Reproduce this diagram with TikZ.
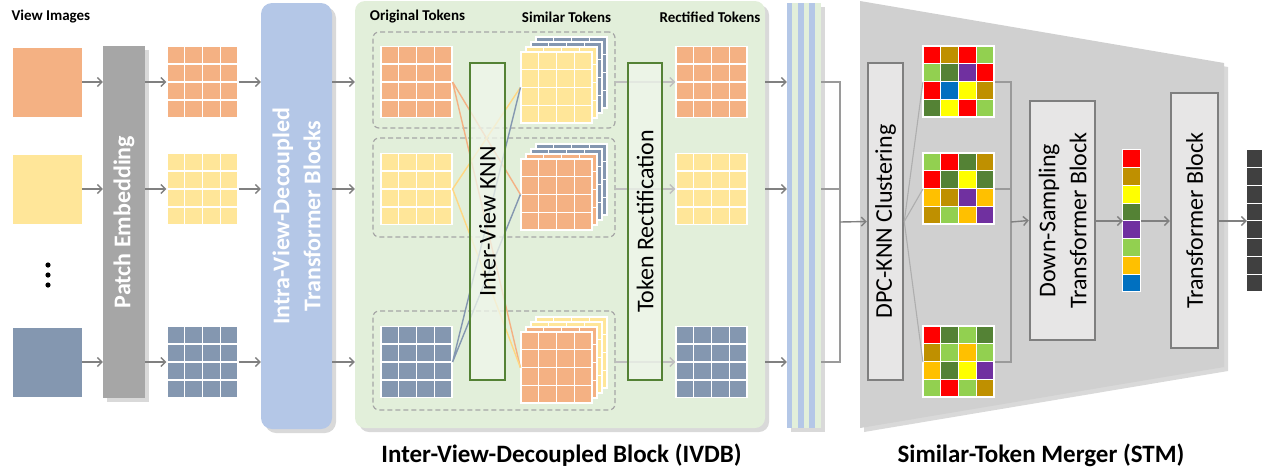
\documentclass[tikz,border=0pt]{standalone}
\usepackage{fontspec}
\setmainfont{Carlito}
\usetikzlibrary{arrows.meta,calc,shadows}

\definecolor{orangeT}{HTML}{F4B183}
\definecolor{yellowT}{HTML}{FFE699}
\definecolor{blueT}{HTML}{8497B0}
\definecolor{peGray}{HTML}{A6A6A6}
\definecolor{intraBlue}{HTML}{B4C7E7}
\definecolor{ivdbGreen}{HTML}{E2EFDA}
\definecolor{knnFill}{HTML}{F0F6EC}
\definecolor{knnEdge}{HTML}{548235}
\definecolor{stmGray}{HTML}{D0D0D0}
\definecolor{boxFill}{HTML}{E7E6E6}
\definecolor{boxEdge}{HTML}{7F7F7F}
\definecolor{arrowGray}{HTML}{808080}
\definecolor{lightArrow}{HTML}{BFBFBF}
\definecolor{linkGray}{HTML}{9A9A9A}
\definecolor{dashGray}{HTML}{A6A6A6}
\definecolor{cRed}{HTML}{FF0000}
\definecolor{cOlive}{HTML}{BF9000}
\definecolor{cLime}{HTML}{92D050}
\definecolor{cGreen}{HTML}{548235}
\definecolor{cPurple}{HTML}{7030A0}
\definecolor{cBlue}{HTML}{0070C0}
\definecolor{cYellow}{HTML}{FFFF00}
\definecolor{cGold}{HTML}{FFC000}
\definecolor{outGray}{HTML}{404040}

\tikzset{
  flow/.style={draw=arrowGray, line width=1.4pt, -{Straight Barb[length=4.5pt,width=9pt]}},
  softflow/.style={draw=lightArrow, line width=1.4pt, -{Straight Barb[length=4.5pt,width=9pt]}},
  link/.style={draw=linkGray, line width=1.4pt},
  knn/.style={line width=1.4pt},
  softshadow/.style={drop shadow={shadow xshift=4pt, shadow yshift=-4pt, opacity=0.3}},
  viewimg/.style={minimum size=69pt, inner sep=0pt},
  tokbox/.style={minimum size=71pt, inner sep=0pt, draw=white, line width=1.2pt},
  cellline/.style={white, line width=1.2pt},
  greenbox/.style={draw=knnEdge, line width=2.5pt, fill=knnFill, fill opacity=0.75, minimum width=35pt, minimum height=317pt, inner sep=0pt},
  graybox/.style={draw=boxEdge, line width=2.5pt, fill=boxFill, inner sep=0pt},
  vtext/.style={rotate=90, font=\fontsize{24}{30}\selectfont, align=center},
  colhead/.style={font=\bfseries\fontsize{15}{18}\selectfont},
  bottomtitle/.style={font=\bfseries\fontsize{25}{30}\selectfont},
  pool/.style={draw=dashGray, dash pattern=on 5pt off 3pt, line width=1.2pt, rounded corners=6pt, minimum width=242pt, inner sep=0pt},
}

% 4x4 token grid: name, centre x, centre y, colour
\newcommand{\tokgrid}[4]{%
  \node[tokbox, fill=#4] (#1) at (#2,#3) {};
  \foreach \k in {1,2,3} {
    \draw[cellline] ($(#1.north west)!\k/4!(#1.north east)$) -- ($(#1.south west)!\k/4!(#1.south east)$);
    \draw[cellline] ($(#1.north west)!\k/4!(#1.south west)$) -- ($(#1.north east)!\k/4!(#1.south east)$);
  }}

% stack of similar tokens: name, centre x, centre y, back colour, front colour
\newcommand{\simstack}[5]{%
  \tokgrid{#1d}{#2+15}{#3-15}{#4}
  \tokgrid{#1c}{#2+10}{#3-10}{#4}
  \tokgrid{#1b}{#2+5}{#3-5}{#5}
  \tokgrid{#1}{#2}{#3}{#5}}

% clustered grid: name, centre x, centre y, 16 colours
\newcommand{\colgrid}[4]{%
  \node[tokbox] (#1) at (#2,#3) {};
  \foreach \cc [count=\idx from 0] in {#4} {
    \pgfmathtruncatemacro\gr{\idx/4}
    \pgfmathtruncatemacro\gc{mod(\idx,4)}
    \filldraw[fill=\cc, draw=white, line width=1.2pt] ($(#1.north west)+(\gc*17.75,\gr*17.75)$) rectangle ++(17.75,17.75);
  }}

\begin{document}
\begin{tikzpicture}[x=1pt,y=-1pt]
\useasboundingbox (0,0) rectangle (1269,472);

% view images
\node[colhead, anchor=west] (viewhd) at (8,17) {View Images};
\node[viewimg, fill=orangeT] (v1) at (47.5,82) {};
\node[viewimg, fill=yellowT] (v2) at (47.5,189) {};
\node[viewimg, fill=blueT] (v3) at (47.5,362) {};
\foreach \yy in {265,275,285} \fill (48,\yy) circle (2.6pt);

% patch embedding
\node[fill=peGray, softshadow, minimum width=42pt, minimum height=352pt] (pe) at (124,222) {};
\node[vtext, text=white, font=\bfseries\fontsize{24}{30}\selectfont] (pe-t) at (pe.center) {Patch Embedding};

\tokgrid{t1}{202.5}{82}{orangeT}
\tokgrid{t2}{202.5}{189}{yellowT}
\tokgrid{t3}{202.5}{362}{blueT}

% intra-view blocks
\node[fill=intraBlue, rounded corners=11pt, softshadow, minimum width=71pt, minimum height=426pt] (intra) at (296.5,216) {};
\node[vtext, text=white, font=\bfseries\fontsize{24}{31}\selectfont] (intra-t) at (intra.center) {Intra-View-Decoupled\\Transformer Blocks};

\foreach \i in {1,2,3} {
  \draw[flow] (v\i.east) -- (v\i.east -| pe.west);
  \draw[flow] (pe.east |- t\i) -- (t\i.west);
  \draw[flow] (t\i.east) -- (t\i.east -| intra.west);
}

% IVDB
\node[fill=ivdbGreen, rounded corners=10pt, softshadow, minimum width=410pt, minimum height=427pt] (ivdb) at (560,214.5) {};
\node[colhead] (orighd) at (417.5,17) {Original Tokens};
\node[colhead] (simhd) at (566.5,17) {Similar Tokens};
\node[colhead] (recthd) at (710,17) {Rectified Tokens};

\node[pool, minimum height=96pt] (d1) at (494,80) {};
\node[pool, minimum height=99pt] (d2) at (494,187.5) {};
\node[pool, minimum height=99pt] (d3) at (494,360.5) {};

\tokgrid{o1}{416.5}{82}{orangeT}
\tokgrid{o2}{416.5}{189}{yellowT}
\tokgrid{o3}{416.5}{362}{blueT}

\simstack{s1}{556.5}{87.5}{blueT}{yellowT}
\simstack{s2}{556.5}{194.5}{blueT}{orangeT}
\simstack{s3}{556.5}{367.5}{yellowT}{orangeT}

\tokgrid{r1}{711.5}{82}{orangeT}
\tokgrid{r2}{711.5}{189}{yellowT}
\tokgrid{r3}{711.5}{362}{blueT}

\draw[knn, orangeT] (o1.east) -- (s2.west) (o1.east) -- (s3.west);
\draw[knn, yellowT!85!orange] (o2.east) -- (s1.west) (o2.east) -- (s3.west);
\draw[knn, blueT] (o3.east) -- (s1.west) (o3.east) -- (s2.west);

\node[greenbox] (knnbox) at (487.5,221.5) {};
\node[vtext] (knn-t) at (knnbox.center) {Inter-View KNN};

\foreach \i in {1,2,3}
  \draw[softflow] (d\i.east |- r\i) -- (r\i.west);

\node[greenbox, minimum width=34pt] (rect) at (645,221.5) {};
\node[vtext] (rect-t) at (rect.center) {Token Rectification};

\node[bottomtitle] (ivdbcap) at (561.5,455) {Inter-View-Decoupled Block (IVDB)};

% striped tokens
\node[fill=intraBlue, softshadow, minimum width=34pt, minimum height=425pt, inner sep=0pt] (stripe) at (804,215.5) {};
\foreach \k in {1,3,5}
  \fill[ivdbGreen] ($(stripe.north west)+(\k*5.667,0)$) rectangle ++(5.667,425);

\foreach \i in {1,2,3} {
  \draw[flow] (intra.east |- t\i) -- (ivdb.west |- t\i);
  \draw[flow] (ivdb.east |- r\i) -- (stripe.west |- r\i);
}

% STM
\fill[stmGray, softshadow] (860,1) -- (1224,63) -- (1224,367) -- (860,428) -- cycle;
\node[bottomtitle] (stmcap) at (1041,455) {Similar-Token Merger (STM)};

\node[graybox, minimum width=35pt, minimum height=317pt] (dpc) at (885.5,221.5) {};
\node[vtext] (dpc-t) at (dpc.center) {DPC-KNN Clustering};

\coordinate (j1) at (840,222);
\foreach \i in {1,2,3}
  \draw[link] (stripe.east |- r\i) -| (j1);
\draw[flow] (j1) -- (dpc.west);

\colgrid{c1}{959}{82}{cRed,cOlive,cRed,cLime,cLime,cGreen,cPurple,cRed,cRed,cBlue,cYellow,cOlive,cGreen,cYellow,cRed,cLime}
\colgrid{c2}{959}{189}{cLime,cRed,cGreen,cOlive,cRed,cGreen,cYellow,cGreen,cGold,cOlive,cPurple,cGold,cOlive,cLime,cGold,cPurple}
\colgrid{c3}{959}{362}{cRed,cGreen,cLime,cGreen,cOlive,cLime,cGold,cLime,cGold,cGreen,cYellow,cPurple,cLime,cRed,cLime,cOlive}

\foreach \i in {1,2,3}
  \draw[linkGray!80, line width=1.1pt] (dpc.east) -- (c\i.west);

\node[graybox, minimum width=65pt, minimum height=239pt] (ds) at (1062.5,220.5) {};
\node[vtext, font=\fontsize{24}{31}\selectfont] (ds-t) at (ds.center) {Down-Sampling\\Transformer Block};

\coordinate (j2) at (1011,222);
\foreach \i in {1,2,3}
  \draw[link] (c\i.east) -| (j2);
\draw[flow] (j2) -- (ds.west);

% merged tokens
\node[minimum width=18pt, minimum height=142pt, inner sep=0pt] (mc) at (1132,221) {};
\foreach \cc [count=\idx from 0] in {cRed,cOlive,cYellow,cGreen,cPurple,cLime,cGold,cBlue}
  \filldraw[fill=\cc, draw=white, line width=1pt] ($(mc.north west)+(0,\idx*17.75)$) rectangle ++(18,17.75);

\node[graybox, minimum width=47pt, minimum height=255pt] (tb) at (1194.5,220.5) {};
\node[vtext] (tb-t) at (tb.center) {Transformer Block};

\node[minimum width=16pt, minimum height=142pt, inner sep=0pt] (out) at (1255,221) {};
\foreach \idx in {0,...,7}
  \filldraw[fill=outGray, draw=white, line width=1pt] ($(out.north west)+(0,\idx*17.75)$) rectangle ++(16,17.75);

\draw[flow] (ds.east |- mc) -- (mc.west);
\draw[flow] (mc.east) -- (mc.east -| tb.west);
\draw[flow] (tb.east |- out) -- (out.west);

\end{tikzpicture}
\end{document}
